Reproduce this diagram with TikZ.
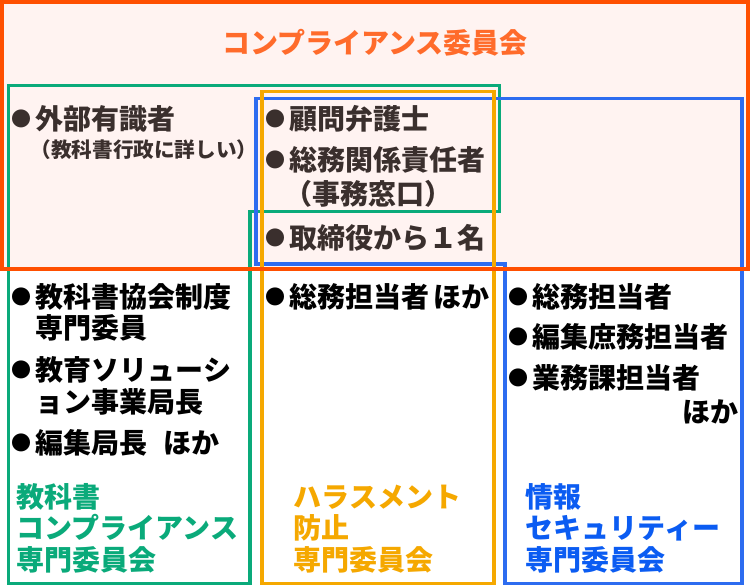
\documentclass[tikz,border=0pt]{standalone}
\usepackage{fontspec}
\newfontfamily\jp{Noto Sans CJK JP}
\definecolor{cborder}{HTML}{FF4F00}
\definecolor{ctitle}{HTML}{FF6B2B}
\definecolor{cpink}{HTML}{FFF3F1}
\definecolor{cgreen}{HTML}{0AAA7A}
\definecolor{cyellow}{HTML}{F5A800}
\definecolor{cblue}{HTML}{2D6CF0}
\definecolor{cbluetext}{HTML}{0B5CF2}
\definecolor{cdark}{HTML}{3A2F2D}
\newcommand\bul{\makebox[28pt][c]{\raisebox{3pt}{\fontsize{20pt}{20pt}\selectfont ●}}}
\tikzset{
  frame/.style={line width=3.6pt, line join=miter},
  txt/.style={inner sep=0pt, anchor=base west, font=\jp\bfseries\fontsize{28pt}{30pt}\selectfont},
  small/.style={inner sep=0pt, anchor=base west, font=\jp\bfseries\fontsize{20.6pt}{22pt}\selectfont},
  upper/.style={text=cdark},
  lower/.style={text=black},
}
\begin{document}
\begin{tikzpicture}[x=1pt,y=-1pt]
\useasboundingbox (0,0) rectangle (750,586);
\fill[white] (0,0) rectangle (750,586);
% committee background
\fill[cpink] (2,2) rectangle (748,269);
% frames
\draw[frame, cgreen] (8.5,85.5) -- (499.5,85.5) -- (499.5,211.5) -- (250,211.5) -- (250,583.5) -- (8.5,583.5) -- cycle;
\draw[frame, cblue] (256,98.5) -- (742,98.5) -- (742,583.5) -- (505,583.5) -- (505,264) -- (256,264) -- cycle;
\draw[frame, cyellow] (262,91.5) rectangle (494,583.5);
\draw[line width=4pt, cborder] (2,2) rectangle (748,269);
% title
\node[txt, anchor=base, text=ctitle] (title) at (375,54) {コンプライアンス委員会};
% upper area
\node[txt, upper] (gaibu) at (7.5,129) {\bul 外部有識者};
\node[small, upper] (gaibusub) at (30.5,157) {（教科書行政に詳しい）};
\node[txt, upper] (komon) at (261,129) {\bul 顧問弁護士};
\node[txt, upper] (somukankei) at (261,170.6) {\bul 総務関係責任者};
\node[txt, upper] (jimu) at (284.5,204.6) {（事務窓口）};
\node[txt, upper] (torishimari) at (261,248.6) {\bul 取締役から１名};
% left column
\node[txt, lower] (kyokasho) at (7.5,307.6) {\bul 教科書協会制度};
\node[txt, lower] (senmon) at (35.5,338.6) {専門委員};
\node[txt, lower] (kyoiku) at (7.5,380.6) {\bul 教育ソリューシ};
\node[txt, lower] (jigyo) at (35.5,412.6) {ョン事業局長};
\node[txt, lower] (henshu) at (7.5,453.6) {\bul 編集局長\hspace{16pt}ほか};
\node[txt, text=cgreen] (g1) at (16.5,507.6) {教科書};
\node[txt, text=cgreen] (g2) at (16.5,538.6) {コンプライアンス};
\node[txt, text=cgreen] (g3) at (16.5,570.6) {専門委員会};
% middle column
\node[txt, lower] (somu2) at (261,307.6) {\bul 総務担当者\hspace{4pt}ほか};
\node[txt, text=cyellow] (y1) at (293.5,507.6) {ハラスメント};
\node[txt, text=cyellow] (y2) at (293.5,538.6) {防止};
\node[txt, text=cyellow] (y3) at (293.5,570.6) {専門委員会};
% right column
\node[txt, lower] (somu3) at (504.5,307.6) {\bul 総務担当者};
\node[txt, lower] (henshushomu) at (504.5,347.6) {\bul 編集庶務担当者};
\node[txt, lower] (gyomu) at (504.5,388.6) {\bul 業務課担当者};
\node[txt, lower, anchor=base east] (hoka) at (738.5,422.6) {ほか};
\node[txt, text=cbluetext] (b1) at (525.5,507.6) {情報};
\node[txt, text=cbluetext] (b2) at (525.5,538.6) {セキュリティー};
\node[txt, text=cbluetext] (b3) at (525.5,570.6) {専門委員会};
\end{tikzpicture}
\end{document}
